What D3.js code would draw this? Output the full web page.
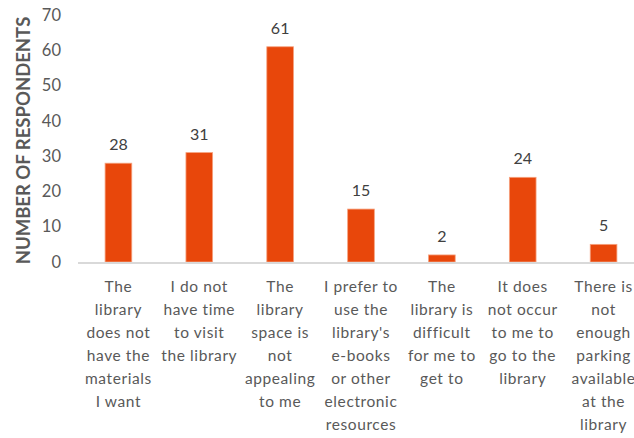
<!DOCTYPE html>
<html>
<head>
<meta charset="utf-8">
<script src="https://cdn.jsdelivr.net/npm/d3@7"></script>
<style>
  html, body { margin: 0; padding: 0; background: #fff; }
  svg { display: block; }
</style>
</head>
<body>
<svg id="chart" width="634" height="438"></svg>
<script>
// reasons for not visiting the library
const categories = [
  ["The", "library", "does not", "have the", "materials", "I want"],
  ["I do not", "have time", "to visit", "the library"],
  ["The", "library", "space is", "not", "appealing", "to me"],
  ["I prefer to", "use the", "library's", "e-books", "or other", "electronic", "resources"],
  ["The", "library is", "difficult", "for me to", "get to"],
  ["It does", "not occur", "to me to", "go to the", "library"],
  ["There is", "not", "enough", "parking", "available", "at the", "library"]
];
const respondents = [28, 31, 61, 15, 2, 24, 5];
const yTicks = [0, 10, 20, 30, 40, 50, 60, 70];

const svg = d3.select("#chart");
const baseY = 262, topY = 15;

const x = d3.scaleBand()
  .domain(d3.range(categories.length))
  .range([78, 644])
  .paddingInner(0.67)
  .paddingOuter(0.335);

const y = d3.scaleLinear().domain([0, 70]).range([baseY, topY]);

// y tick labels
svg.append("g")
  .selectAll("text")
  .data(yTicks)
  .enter()
  .append("text")
  .attr("x", 61)
  .attr("y", d => y(d))
  .attr("dy", "0.35em")
  .attr("text-anchor", "end")
  .attr("fill", "#595959")
  .attr("font-family", "Lato, 'Open Sans', sans-serif")
  .attr("font-size", "16.5px")
  .text(d => d);

// axis title
svg.append("text")
  .attr("transform", `translate(30, ${(baseY + topY) / 2 + 2}) rotate(-90)`)
  .attr("text-anchor", "middle")
  .attr("fill", "#595959")
  .attr("font-family", "Lato, 'Open Sans', sans-serif")
  .attr("font-weight", "bold")
  .attr("font-size", "18.5px")
  .text("NUMBER OF RESPONDENTS");

// bars
svg.append("g")
  .selectAll("rect")
  .data(respondents)
  .enter()
  .append("rect")
  .attr("x", (d, i) => x(i))
  .attr("y", d => y(d))
  .attr("width", x.bandwidth())
  .attr("height", d => baseY - y(d))
  .attr("fill", "#E8470B")
  .attr("stroke", "#F6A27F")
  .attr("stroke-width", 0.8);

// value labels
svg.append("g")
  .selectAll("text")
  .data(respondents)
  .enter()
  .append("text")
  .attr("x", (d, i) => x(i) + x.bandwidth() / 2)
  .attr("y", d => y(d) - 13)
  .attr("text-anchor", "middle")
  .attr("fill", "#404040")
  .attr("font-family", "Lato, 'Open Sans', sans-serif")
  .attr("font-size", "16px")
  .text(d => d);

// x axis line
svg.append("line")
  .attr("x1", 78).attr("x2", 634)
  .attr("y1", baseY + 1).attr("y2", baseY + 1)
  .attr("stroke", "#D9D9D9")
  .attr("stroke-width", 2);

// category labels
const cats = svg.append("g")
  .selectAll("text")
  .data(categories)
  .enter()
  .append("text")
  .attr("text-anchor", "middle")
  .attr("fill", "#595959")
  .attr("font-family", "Lato, 'Open Sans', sans-serif")
  .attr("font-size", "15.5px")
  .attr("letter-spacing", "0.6px");

cats.selectAll("tspan")
  .data((d, i) => d.map(t => ({ t, i })))
  .enter()
  .append("tspan")
  .attr("x", d => x(d.i) + x.bandwidth() / 2)
  .attr("y", (d, j) => 292 + j * 23)
  .text(d => d.t);
</script>
</body>
</html>
